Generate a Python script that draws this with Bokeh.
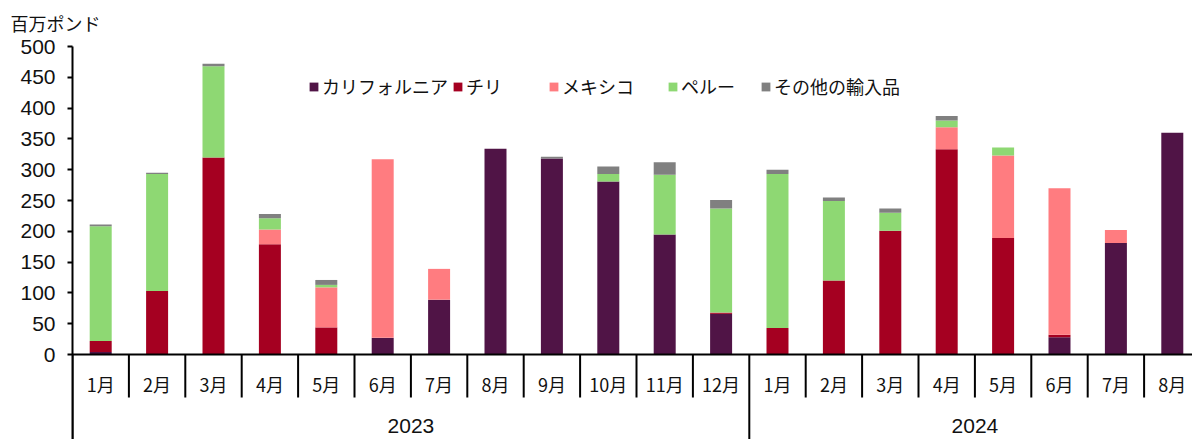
from bokeh.plotting import figure
from bokeh.models import ColumnDataSource, Range1d, FixedTicker, Legend, LegendItem, Title, Span
from bokeh.core.properties import value
from bokeh.embed import file_html
from bokeh.resources import INLINE

# ---- data (百万ポンド) ----
months = ["1月", "2月", "3月", "4月", "5月", "6月", "7月", "8月", "9月", "10月", "11月", "12月",
          "1月", "2月", "3月", "4月", "5月", "6月", "7月", "8月"]
years = ["2023", "2024"]
year_counts = [12, 8]

california = [4, 0, 0, 0, 0, 27, 89, 334, 318, 281, 195, 66, 0, 0, 0, 0, 0, 28, 181, 360]
chile      = [18, 103, 320, 179, 44, 0, 0, 0, 0, 0, 0, 2, 43, 120, 201, 333, 189, 4, 0, 0]
mexico     = [0, 0, 0, 24, 65, 290, 50, 0, 0, 0, 0, 0, 0, 0, 0, 36, 134, 238, 21, 0]
peru       = [186, 190, 148, 18, 4, 0, 0, 0, 0, 12, 97, 169, 250, 129, 29, 11, 13, 0, 0, 0]
other      = [3, 2, 4, 7, 8, 0, 0, 0, 3, 12, 20, 14, 7, 6, 7, 7, 0, 0, 0, 0]

series_names = ["カリフォルニア", "チリ", "メキシコ", "ペルー", "その他の輸入品"]
colors = ["#501446", "#A50021", "#FF7C80", "#8ED873", "#808080"]
y_ticks = list(range(0, 501, 50))
y_unit = "百万ポンド"

# ---- layout constants ----
W, H = 1192, 439
LEFT, TOP = 72, 46
CAT_PX = 56.4
frame_w = W - LEFT
frame_h = H - TOP
y_top = 500
px_per_unit = 308 / 500.0
y_bottom = y_top - frame_h / px_per_unit
x_end = frame_w / CAT_PX

n = len(months)
keys = ["california", "chile", "mexico", "peru", "other"]
src = ColumnDataSource(dict(x=[i + 0.5 for i in range(n)], california=california, chile=chile,
                            mexico=mexico, peru=peru, other=other))

p = figure(width=W, height=H, output_backend="svg", toolbar_location=None,
           x_range=Range1d(0, x_end), y_range=Range1d(y_bottom, y_top),
           min_border_left=LEFT, min_border_right=0, min_border_top=TOP, min_border_bottom=0,
           x_axis_location=None)
p.outline_line_color = None
p.grid.visible = False
p.background_fill_color = "white"

renderers = p.vbar_stack(keys, x="x", width=0.39, color=colors, source=src, line_color=None)

# y axis
ax = p.yaxis[0]
ax.ticker = FixedTicker(ticks=y_ticks)
ax.axis_line_width = 2
ax.axis_line_color = "black"
ax.major_tick_line_width = 2
ax.major_tick_line_color = "black"
ax.major_tick_out = 5
ax.major_tick_in = 0
ax.minor_tick_line_color = None
ax.major_label_text_font_size = "21px"
ax.major_label_text_font = "Liberation Sans"
ax.major_label_text_color = "#111111"
ax.major_label_standoff = 12

# baseline
p.add_layout(Span(location=0, dimension="width", line_color="black", line_width=2))

# category dividers
unit = 1 / px_per_unit
month_div_len = 43 * unit
boundaries = []
acc = 0
for c in year_counts:
    boundaries.append(acc)
    acc += c
boundaries.append(acc)
mx = [i for i in range(1, n) if i not in boundaries]
p.segment(x0=mx, y0=[0] * len(mx), x1=mx, y1=[-month_div_len] * len(mx), line_color="black", line_width=2)
p.segment(x0=boundaries, y0=[0] * len(boundaries), x1=boundaries, y1=[y_bottom] * len(boundaries),
          line_color="black", line_width=2)

# month labels
p.text(x=[i + 0.5 for i in range(n)], y=[-29 * unit] * n, text=months,
       text_align="center", text_baseline="middle", text_font_size="18px",
       text_font=value("Noto Sans CJK JP"), text_color="#111111")

# year labels
ycent = [boundaries[k] + year_counts[k] / 2 for k in range(len(years))]
p.text(x=ycent, y=[-71 * unit] * len(years), text=years,
       text_align="center", text_baseline="middle", text_font_size="21px",
       text_font=value("Liberation Sans"), text_color="#111111")

# unit label (title above the frame)
p.add_layout(Title(text=y_unit, align="left", offset=10 - LEFT, standoff=18, vertical_align="top",
                   text_font_size="18px", text_font="Noto Sans CJK JP",
                   text_font_style="normal", text_color="#111111"), "above")

# legends (one per item to match irregular spacing)
leg_x = [308, 452, 548, 667, 760]
leg_cy = 88
for name, r, lx in zip(series_names, renderers, leg_x):
    lg = Legend(items=[LegendItem(label=name, renderers=[r])],
                location=(lx - LEFT, H - (leg_cy + 11)),
                orientation="horizontal", padding=0, margin=0, spacing=0,
                glyph_width=11, glyph_height=11, label_standoff=3, label_height=20,
                label_text_font="Noto Sans CJK JP", label_text_font_size="18px",
                label_text_color="#111111",
                border_line_color=None, background_fill_alpha=0)
    p.add_layout(lg)

open("out.html", "w").write(file_html(p, INLINE))
